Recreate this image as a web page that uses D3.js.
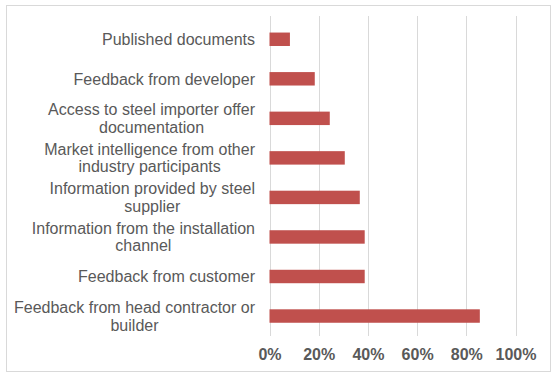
<!DOCTYPE html>
<html>
<head>
<meta charset="utf-8">
<script src="https://cdn.jsdelivr.net/npm/d3@7"></script>
<style>
  html, body { margin: 0; padding: 0; background: #fff; }
  svg { display: block; }
  text { font-family: "Liberation Sans", Arial, sans-serif; }
</style>
</head>
<body>
<svg id="chart" width="557" height="381"></svg>
<script>
const categories = [
  "Published documents",
  "Feedback from developer",
  "Access to steel importer offer documentation",
  "Market intelligence from other industry participants",
  "Information provided by steel supplier",
  "Information from the installation channel",
  "Feedback from customer",
  "Feedback from head contractor or builder"
];
const values = [0.083, 0.184, 0.245, 0.306, 0.367, 0.387, 0.387, 0.855];
const tickValues = [0, 0.2, 0.4, 0.6, 0.8, 1.0];

const svg = d3.select("#chart");

// chart border
svg.append("rect")
  .attr("x", 6.5).attr("y", 5.5)
  .attr("width", 544).attr("height", 366)
  .attr("fill", "#fff").attr("stroke", "#d9d9d9").attr("stroke-width", 1);

const x = d3.scaleLinear().domain([0, 1]).range([269.5, 515.5]);
const y = d3.scaleBand().domain(categories).range([19.5, 335.8]).paddingInner(0.66).paddingOuter(0.33);

const gridTop = 16, gridBottom = 336;

// gridlines
svg.append("g").selectAll("line")
  .data(tickValues)
  .join("line")
  .attr("x1", d => Math.round(x(d)) + 0.5)
  .attr("x2", d => Math.round(x(d)) + 0.5)
  .attr("y1", gridTop).attr("y2", gridBottom)
  .attr("stroke", "#d9d9d9").attr("stroke-width", 1);

// bars
svg.append("g").selectAll("rect")
  .data(categories)
  .join("rect")
  .attr("x", x(0))
  .attr("y", d => y(d))
  .attr("width", (d, i) => x(values[i]) - x(0))
  .attr("height", y.bandwidth())
  .attr("fill", "#C0504D");

// x axis tick labels
const xAxis = d3.axisBottom(x).tickValues(tickValues).tickFormat(d3.format(".0%")).tickSize(0).tickPadding(0);
const xg = svg.append("g").attr("transform", `translate(0, ${gridBottom})`).call(xAxis);
xg.select(".domain").remove();
xg.selectAll("text")
  .attr("y", 24).attr("dy", 0)
  .attr("fill", "#595959")
  .style("font-size", "16px").style("font-weight", "bold")
  .style("font-family", '"Liberation Sans", Arial, sans-serif');

// y labels with wrapping (block right-aligned, lines centered within block)
const labelX = 255;
const maxW = 250;
const lineH = 17.5;
const fontSize = 16;
const lg = svg.append("g");
const probe = svg.append("text").style("font-size", fontSize + "px");
const measure = s => { probe.text(s); return probe.node().getComputedTextLength(); };
categories.forEach((cat) => {
  const cy = y(cat) + y.bandwidth() / 2;
  const words = cat.split(" ");
  const lines = [];
  let cur = [];
  words.forEach(w => {
    const test = cur.concat([w]).join(" ");
    if (measure(test) > maxW && cur.length) {
      lines.push(cur.join(" "));
      cur = [w];
    } else {
      cur.push(w);
    }
  });
  lines.push(cur.join(" "));
  const blockW = d3.max(lines, measure);
  const cx = labelX - blockW / 2;
  const t = lg.append("text")
    .attr("text-anchor", "middle")
    .attr("fill", "#595959")
    .style("font-size", fontSize + "px");
  const capH = fontSize * 0.716;
  const firstBaseline = cy + capH / 2 - (lines.length - 1) * lineH / 2;
  lines.forEach((ln, k) => {
    t.append("tspan")
      .attr("x", cx)
      .attr("y", firstBaseline + k * lineH)
      .text(ln);
  });
});
probe.remove();
</script>
</body>
</html>
